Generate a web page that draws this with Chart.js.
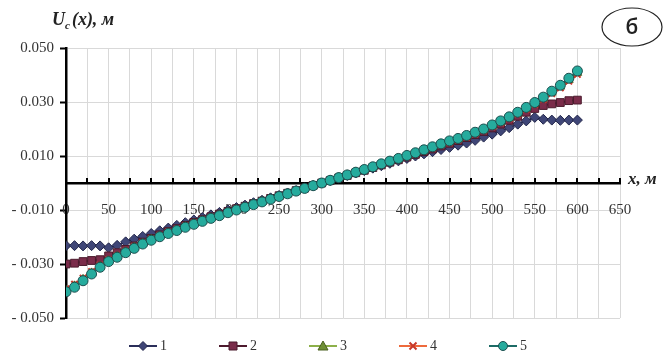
<!DOCTYPE html>
<html><head><meta charset="utf-8">
<script src="https://cdn.jsdelivr.net/npm/chart.js@4/dist/chart.umd.min.js"></script>
<style>html,body{margin:0;padding:0;background:#fff}#wrap{width:670px;height:358px;position:relative}canvas{display:block}</style>
</head><body><div id="wrap"><canvas id="c" width="670" height="358"></canvas></div>
<script>
const X = [0,10,20,30,40,50,60,70,80,90,100,110,120,130,140,150,160,170,180,190,200,210,220,230,240,250,260,270,280,290,300,310,320,330,340,350,360,370,380,390,400,410,420,430,440,450,460,470,480,490,500,510,520,530,540,550,560,570,580,590,600];
const S1 = [-0.0232,-0.0232,-0.0233,-0.0232,-0.0233,-0.0240,-0.0231,-0.0218,-0.0208,-0.0198,-0.0187,-0.0177,-0.0167,-0.0157,-0.0147,-0.0137,-0.0128,-0.0118,-0.0109,-0.0100,-0.0091,-0.0082,-0.0073,-0.0064,-0.0055,-0.0046,-0.0037,-0.0028,-0.0018,-0.0009,0.0000,0.0009,0.0018,0.0028,0.0037,0.0046,0.0055,0.0064,0.0073,0.0082,0.0091,0.0100,0.0108,0.0116,0.0124,0.0132,0.0140,0.0148,0.0158,0.0170,0.0181,0.0193,0.0205,0.0218,0.0230,0.0243,0.0236,0.0233,0.0232,0.0233,0.0233];
const S2 = [-0.0300,-0.0297,-0.0291,-0.0287,-0.0284,-0.0270,-0.0258,-0.0246,-0.0233,-0.0219,-0.0205,-0.0192,-0.0180,-0.0169,-0.0157,-0.0146,-0.0136,-0.0125,-0.0115,-0.0105,-0.0095,-0.0086,-0.0076,-0.0067,-0.0057,-0.0047,-0.0038,-0.0028,-0.0019,-0.0009,0.0000,0.0009,0.0019,0.0028,0.0038,0.0047,0.0057,0.0067,0.0077,0.0086,0.0096,0.0106,0.0116,0.0126,0.0137,0.0147,0.0157,0.0168,0.0179,0.0191,0.0204,0.0218,0.0232,0.0247,0.0262,0.0276,0.0287,0.0293,0.0298,0.0305,0.0307];
const S3 = [-0.0398,-0.0381,-0.0357,-0.0333,-0.0308,-0.0288,-0.0272,-0.0255,-0.0239,-0.0224,-0.0209,-0.0197,-0.0185,-0.0174,-0.0162,-0.0151,-0.0140,-0.0129,-0.0119,-0.0109,-0.0099,-0.0089,-0.0079,-0.0069,-0.0059,-0.0049,-0.0040,-0.0030,-0.0020,-0.0010,0.0000,0.0010,0.0020,0.0030,0.0040,0.0049,0.0059,0.0070,0.0080,0.0090,0.0100,0.0110,0.0121,0.0132,0.0143,0.0154,0.0163,0.0174,0.0185,0.0197,0.0212,0.0226,0.0242,0.0258,0.0276,0.0294,0.0313,0.0335,0.0357,0.0382,0.0408];
const S4 = [-0.0392,-0.0375,-0.0352,-0.0328,-0.0304,-0.0284,-0.0268,-0.0252,-0.0236,-0.0221,-0.0206,-0.0194,-0.0182,-0.0171,-0.0159,-0.0148,-0.0138,-0.0127,-0.0117,-0.0107,-0.0097,-0.0087,-0.0077,-0.0068,-0.0058,-0.0048,-0.0039,-0.0029,-0.0019,-0.0010,0.0000,0.0010,0.0019,0.0029,0.0039,0.0048,0.0058,0.0068,0.0078,0.0088,0.0098,0.0108,0.0118,0.0129,0.0140,0.0150,0.0160,0.0170,0.0182,0.0194,0.0209,0.0223,0.0238,0.0254,0.0272,0.0290,0.0309,0.0331,0.0352,0.0377,0.0402];
const S5 = [-0.0403,-0.0386,-0.0362,-0.0337,-0.0312,-0.0291,-0.0275,-0.0258,-0.0242,-0.0226,-0.0212,-0.0199,-0.0187,-0.0176,-0.0164,-0.0153,-0.0142,-0.0131,-0.0121,-0.0110,-0.0100,-0.0090,-0.0080,-0.0070,-0.0060,-0.0050,-0.0040,-0.0030,-0.0020,-0.0010,0.0000,0.0010,0.0020,0.0030,0.0040,0.0050,0.0060,0.0071,0.0081,0.0091,0.0102,0.0112,0.0123,0.0134,0.0145,0.0156,0.0165,0.0176,0.0188,0.0200,0.0215,0.0230,0.0245,0.0262,0.0280,0.0298,0.0318,0.0340,0.0362,0.0388,0.0415];
const SERIES_NAMES = ['1','2','3','4','5'];
const Y_TICKS = [-0.05,-0.03,-0.01,0.01,0.03,0.05];
const X_TICKS = [0,25,50,75,100,125,150,175,200,225,250,275,300,325,350,375,400,425,450,475,500,525,550,575,600,625,650];
const X_LABELS = [0,50,100,150,200,250,300,350,400,450,500,550,600,650];
const Y_TITLE = ['U','c','(x), м'];
const X_TITLE = 'x, м';
const PANEL = 'б';

const serif = '"Liberation Serif", "DejaVu Serif", serif';
const styles = [
  {line:'#2b2f5a', fill:'#3f4677', border:'#22264a', ps:'rectRot', r:5},
  {line:'#4d1a2e', fill:'#7a2c4a', border:'#4a1a2c', ps:'rect', r:5.5},
  {line:'#8db04a', fill:'#6f8f35', border:'#4a6020', ps:'triangle', r:5},
  {line:'#ee6a3c', fill:'#d9452b', border:'#c8382a', ps:'crossRot', r:4.5},
  {line:'#1d6b66', fill:'#26ab9d', border:'#1c4f4f', ps:'circle', r:5}
];
const SER = [S1,S2,S3,S4,S5];
const datasets = SER.map((s,i)=>({
  label: SERIES_NAMES[i],
  data: X.map((x,j)=>({x:x, y:s[j]})),
  borderColor: styles[i].line,
  borderWidth: 2,
  pointStyle: styles[i].ps,
  pointRadius: styles[i].r,
  pointBackgroundColor: styles[i].fill,
  pointBorderColor: styles[i].border,
  pointBorderWidth: i===3 ? 2 : 1,
  tension: 0,
  fill: false,
  order: 5 - i
}));

const deco = {
  id:'deco',
  beforeDatasetsDraw(chart){
    const ctx = chart.ctx, xs = chart.scales.x, ys = chart.scales.y;
    const y0 = ys.getPixelForValue(0);
    ctx.save();
    ctx.strokeStyle = '#000'; ctx.lineWidth = 2;
    X_TICKS.forEach(v=>{
      if (v===0) return;
      const px = Math.round(xs.getPixelForValue(v));
      ctx.beginPath(); ctx.moveTo(px, y0); ctx.lineTo(px, y0-5); ctx.stroke();
    });
    ctx.restore();
  },
  afterDraw(chart){
    const ctx = chart.ctx, xs = chart.scales.x, ys = chart.scales.y;
    const ca = chart.chartArea;
    ctx.save();
    ctx.fillStyle = '#222';
    // y title
    ctx.textBaseline = 'alphabetic'; ctx.textAlign = 'left';
    let tx = 52;
    ctx.font = 'italic bold 18px ' + serif;
    ctx.fillText(Y_TITLE[0], tx, 25); tx += ctx.measureText(Y_TITLE[0]).width;
    ctx.font = 'italic bold 11px ' + serif;
    ctx.fillText(Y_TITLE[1], tx, 29); tx += ctx.measureText(Y_TITLE[1]).width + 2;
    ctx.font = 'italic bold 18px ' + serif;
    ctx.fillText(Y_TITLE[2], tx, 25);
    // x title
    ctx.font = 'italic bold 17px ' + serif;
    ctx.textBaseline = 'middle';
    ctx.fillText(X_TITLE, ca.right + 8, ys.getPixelForValue(0) - 3);
    // panel label
    ctx.beginPath(); ctx.ellipse(632, 27, 30, 19, 0, 0, Math.PI*2);
    ctx.strokeStyle = '#222'; ctx.lineWidth = 1.2; ctx.stroke();
    ctx.font = '600 21px "Open Sans", sans-serif'; ctx.textAlign = 'center';
    ctx.fillText(PANEL, 632, 28);
    // legend
    const ly = 346;
    chart.data.datasets.forEach((ds,i)=>{
      const st = styles[i];
      const cx = 143 + 90*i;
      ctx.strokeStyle = st.line; ctx.lineWidth = 2;
      ctx.beginPath(); ctx.moveTo(cx-14, ly); ctx.lineTo(cx+14, ly); ctx.stroke();
      ctx.fillStyle = st.fill; ctx.strokeStyle = st.border; ctx.lineWidth = 1;
      ctx.beginPath();
      const r = 4.5;
      if (st.ps==='rectRot'){ ctx.moveTo(cx, ly-r); ctx.lineTo(cx+r, ly); ctx.lineTo(cx, ly+r); ctx.lineTo(cx-r, ly); ctx.closePath(); ctx.fill(); ctx.stroke(); }
      else if (st.ps==='rect'){ ctx.rect(cx-4, ly-4, 8, 8); ctx.fill(); ctx.stroke(); }
      else if (st.ps==='triangle'){ ctx.moveTo(cx, ly-5); ctx.lineTo(cx+5, ly+4); ctx.lineTo(cx-5, ly+4); ctx.closePath(); ctx.fill(); ctx.stroke(); }
      else if (st.ps==='crossRot'){ ctx.lineWidth = 2; ctx.moveTo(cx-3.5, ly-3.5); ctx.lineTo(cx+3.5, ly+3.5); ctx.moveTo(cx+3.5, ly-3.5); ctx.lineTo(cx-3.5, ly+3.5); ctx.stroke(); }
      else { ctx.arc(cx, ly, r, 0, Math.PI*2); ctx.fill(); ctx.stroke(); }
      ctx.fillStyle = '#333'; ctx.font = '14px ' + serif; ctx.textAlign = 'left'; ctx.textBaseline = 'middle';
      ctx.fillText(ds.label, cx + 17, ly);
    });
    ctx.restore();
  }
};

new Chart(document.getElementById('c'), {
  type: 'line',
  data: { datasets },
  options: {
    responsive: false,
    animation: false,
    devicePixelRatio: 1,
    layout: { padding: { left: 0, right: 50, top: 48, bottom: 40 } },
    plugins: { legend: { display: false }, tooltip: { enabled: false } },
    scales: {
      x: {
        type: 'linear', position: { y: 0 }, min: 0, max: 650,
        afterBuildTicks: s => { s.ticks = X_TICKS.map(v=>({value:v})); },
        grid: { color: '#d9d9d9', lineWidth: 1, drawTicks: false },
        border: { color: '#000', width: 2.5 },
        ticks: { autoSkip: false, maxRotation: 0, padding: 18, color: '#333',
          font: { family: serif, size: 15 },
          callback: v => X_LABELS.includes(v) ? String(v) : '' }
      },
      y: {
        type: 'linear', min: -0.05, max: 0.05,
        afterBuildTicks: s => { s.ticks = Y_TICKS.map(v=>({value:v})); },
        afterFit: s => { s.width = 66; },
        grid: { color: '#d9d9d9', lineWidth: 1, tickColor: '#000', tickLength: 6, tickWidth: 2 },
        border: { color: '#000', width: 2.5 },
        ticks: { padding: 6, color: '#333', font: { family: serif, size: 15 },
          callback: v => (v < 0 ? '- ' : '') + Math.abs(v).toFixed(3) }
      }
    }
  },
  plugins: [deco]
});
</script>
</body></html>
